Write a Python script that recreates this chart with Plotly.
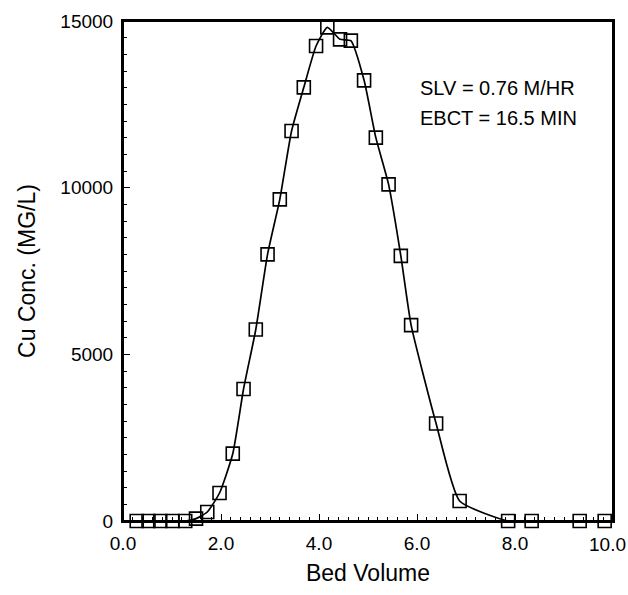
import plotly.graph_objects as go

bed_volume = [0.28, 0.52, 0.76, 1.01, 1.27, 1.49, 1.72, 1.97, 2.24, 2.46,
              2.71, 2.95, 3.20, 3.44, 3.69, 3.94, 4.17, 4.43, 4.65, 4.92,
              5.16, 5.42, 5.67, 5.88, 6.39, 6.87, 7.86, 8.34, 9.32, 9.83]
cu_conc = [0, 0, 0, 0, 0, 72, 270, 840, 2020, 3960,
           5745, 8000, 9650, 11700, 13010, 14250, 14810, 14450, 14410, 13220,
           11500, 10100, 7955, 5875, 2925, 600, 0, 0, 0, 0]
x_ticks = [0, 2, 4, 6, 8]
x_labels = ["0.0", "2.0", "4.0", "6.0", "8.0"]
x_end_tick = [10]
x_end_label = ["10.0"]
y_ticks = [0, 5000, 10000, 15000]
y_labels = ["0", "5000", "10000", "15000"]
notes = ["SLV = 0.76 M/HR", "EBCT = 16.5 MIN"]

FONT = "Liberation Sans, Arial, sans-serif"

fig = go.Figure()
fig.add_trace(go.Scatter(
    x=bed_volume, y=cu_conc, mode="lines+markers",
    line=dict(color="black", width=1.7, shape="spline", smoothing=0.5),
    marker=dict(symbol="square-open", size=13, color="black",
                line=dict(width=1.6, color="black")),
    cliponaxis=False, showlegend=False,
))

fig.update_layout(
    width=628, height=595, autosize=False,
    margin=dict(l=123, r=15, t=21, b=74),
    paper_bgcolor="white", plot_bgcolor="white",
    font=dict(family=FONT, size=19, color="black"),
    xaxis=dict(
        range=[0, 10], tickvals=x_ticks, ticktext=x_labels,
        ticks="inside", ticklen=7, tickwidth=1.3, tickcolor="black",
        minor=dict(dtick=0.2, ticks="inside", ticklen=4, tickcolor="black", tickwidth=1),
        showline=True, linecolor="black", linewidth=2, mirror=True,
        showgrid=False, zeroline=False, automargin=False,
        title=dict(text="Bed Volume", standoff=12),
        ticklabelstandoff=4,
    ),
    xaxis2=dict(
        range=[0, 10], overlaying="x", side="bottom", anchor="y",
        tickvals=x_end_tick, ticktext=x_end_label,
        ticks="", showline=False, showgrid=False, zeroline=False,
        automargin=False, ticklabelposition="outside left",
        ticklabelshift=13, ticklabelstandoff=10,
    ),
    yaxis=dict(
        range=[0, 15000], tickvals=y_ticks, ticktext=y_labels,
        ticks="inside", ticklen=7, tickwidth=1.3, tickcolor="black",
        minor=dict(dtick=500, ticks="inside", ticklen=4, tickcolor="black", tickwidth=1),
        showline=True, linecolor="black", linewidth=2, mirror=True,
        showgrid=False, zeroline=False, automargin=False,
        ticklabeloverflow="allow",
        title=dict(text="Cu Conc. (MG/L)", standoff=18),
        ticklabelstandoff=4,
    ),
    shapes=[dict(type="rect", xref="paper", yref="paper", x0=0, x1=1, y0=0, y1=1,
                 line=dict(color="black", width=2), fillcolor="rgba(0,0,0,0)",
                 layer="above")],
)

# invisible trace so the secondary x axis is drawn
fig.add_trace(go.Scatter(x=x_end_tick, y=[None], xaxis="x2", yaxis="y",
                         mode="markers", showlegend=False, hoverinfo="skip"))

for i, t in enumerate(notes):
    fig.add_annotation(x=6.02, y=12990 - i * 900, text=t, showarrow=False,
                       xanchor="left", yanchor="middle",
                       font=dict(family=FONT, size=20, color="black"))

fig.write_html(
    "out.html",
    config={"displayModeBar": False, "responsive": False},
    post_script="document.body.style.margin='0';document.body.style.overflow='hidden';",
)
